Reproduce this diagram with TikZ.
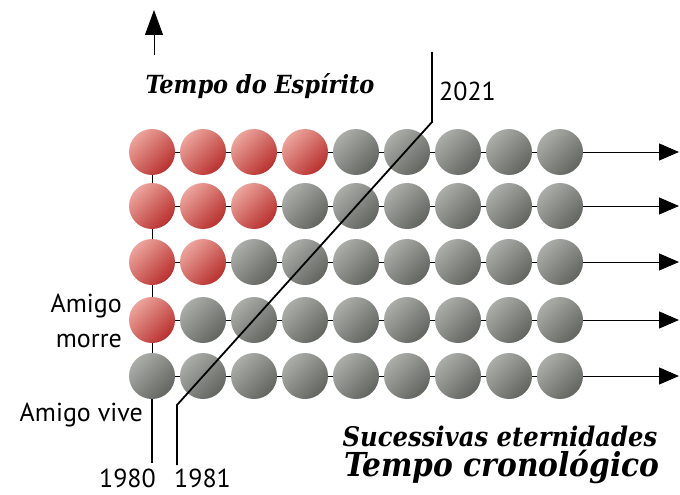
\documentclass[tikz,border=0pt]{standalone}
\usepackage{fontspec}
\usepackage{xcolor}
\usetikzlibrary{arrows.meta}
\newfontfamily\labelfont{PT Sans}
\newfontfamily\headfont{DejaVu Serif Condensed}
\definecolor{redlight}{HTML}{ECA49C}
\definecolor{reddark}{HTML}{B8302E}
\definecolor{graylight}{HTML}{ABADA8}
\definecolor{graydark}{HTML}{62655F}

\begin{document}
\begin{tikzpicture}[
    x=1pt, y=-1pt,
    >={Triangle[length=20pt,width=17pt]},
    ball/.style={circle, minimum size=46pt, inner sep=0pt},
    redball/.style={ball, top color=redlight, bottom color=reddark, shading angle=45},
    grayball/.style={ball, top color=graylight, bottom color=graydark, shading angle=45},
    link/.style={line width=1pt},
    yearline/.style={line width=1.8pt},
    lbl/.style={font=\labelfont\fontsize{26}{35}\selectfont, inner sep=0pt},
    head/.style={font=\headfont\bfseries\itshape\fontsize{#1}{#1}\selectfont, inner sep=0pt}
]
    \useasboundingbox[fill=white] (0,0) rectangle (680,495);

    % balls, red ones on the left of each row
    \foreach \r/\y in {1/152,2/206,3/262,4/320,5/376}{
        \foreach \c in {1,...,9}{
            \pgfmathtruncatemacro{\nred}{5-\r}
            \ifnum\c>\nred \def\balltype{grayball}\else\def\balltype{redball}\fi
            \node[\balltype] (b-\r-\c) at ({152+51*(\c-1)}, \y) {};
        }
        \coordinate (e-\r) at (679, \y);
    }

    % links between the balls
    \foreach \r in {1,...,5}{
        \foreach \c [evaluate=\c as \n using int(\c+1)] in {1,...,8}
            \draw[link] (b-\r-\c) -- (b-\r-\n);
        \draw[link, ->] (b-\r-9) -- (e-\r);
    }
    \foreach \r [evaluate=\r as \n using int(\r+1)] in {1,...,4}
        \draw[link] (b-\r-1) -- (b-\n-1);

    % time of the spirit
    \coordinate (s0) at (154,55);
    \coordinate (s1) at (154,10);
    \draw[link, -{Triangle[length=25pt,width=18pt]}] (s0) -- (s1);
    \node[head=25] (spirit) at (260,86) {Tempo do Espírito};

    % year lines
    \coordinate (t1980) at (152,463);
    \coordinate (t1981) at (177,465);
    \coordinate (k1981) at (177,405);
    \coordinate (k2021) at (432,122);
    \coordinate (t2021) at (432,52);
    \draw[yearline] (b-5-1) -- (t1980);
    \draw[yearline] (t1981) -- (k1981) -- (k2021) -- (t2021);
    \node[lbl, anchor=north east] (y1980) at (156,469) {1980};
    \node[lbl, anchor=north west] (y1981) at (174,469) {1981};
    \node[lbl, anchor=west] (y2021) at (439,91) {2021};

    % friend labels
    \node[lbl, anchor=east, align=right] (morre) at (122,321) {Amigo\\morre};
    \node[lbl, anchor=east] (vive) at (143,415) {Amigo vive};

    % chronological time
    \node[head=27] (eternal) at (500,436) {Sucessivas eternidades};
    \node[head=33] (chrono) at (502,467) {Tempo cronológico};
\end{tikzpicture}
\end{document}
